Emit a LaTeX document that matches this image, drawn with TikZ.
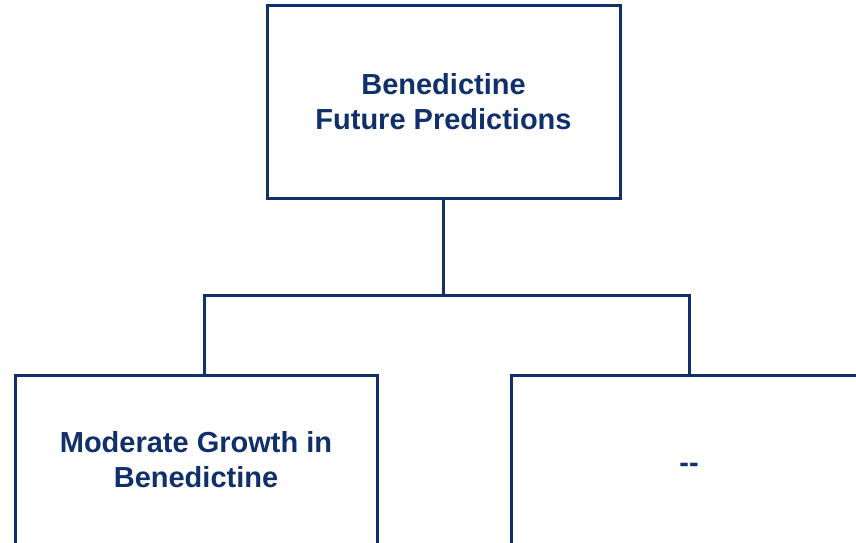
\documentclass[tikz,border=0pt]{standalone}
\usepackage{fontspec}
\setmainfont{Liberation Sans}
\usetikzlibrary{positioning, calc}
\definecolor{navy}{HTML}{10306B}

\begin{document}
\begin{tikzpicture}[
  x=1pt, y=-1pt,
  predbox/.style={
    draw=navy, line width=3pt, fill=white,
    font=\fontsize{29}{35}\selectfont\bfseries,
    text=navy, align=center, inner sep=0pt
  },
  link/.style={draw=navy, line width=3pt},
]

% Page frame
\useasboundingbox (0,0) rectangle (856,543);
\clip (0,0) rectangle (856,543);

% Root box
\node[predbox, minimum width=353pt, minimum height=192pt] (root) at (443.5,102)
  {Benedictine\\Future Predictions};

% Child boxes
\node[predbox, minimum width=362pt, minimum height=170pt] (growth) at (196,460)
  {Moderate Growth in\\Benedictine};
\node[predbox, minimum width=356pt, minimum height=170pt] (other) at (689,460)
  {\raisebox{-12pt}[0pt][0pt]{-{}-}};

% Connectors
\coordinate (bus) at ($(root.south)+(0,96)$);
\draw[link] (root.south) -- (bus);
\draw[link] (bus) -| ([xshift=8pt]growth.north);
\draw[link] (bus) -| (other.north);

\end{tikzpicture}
\end{document}
